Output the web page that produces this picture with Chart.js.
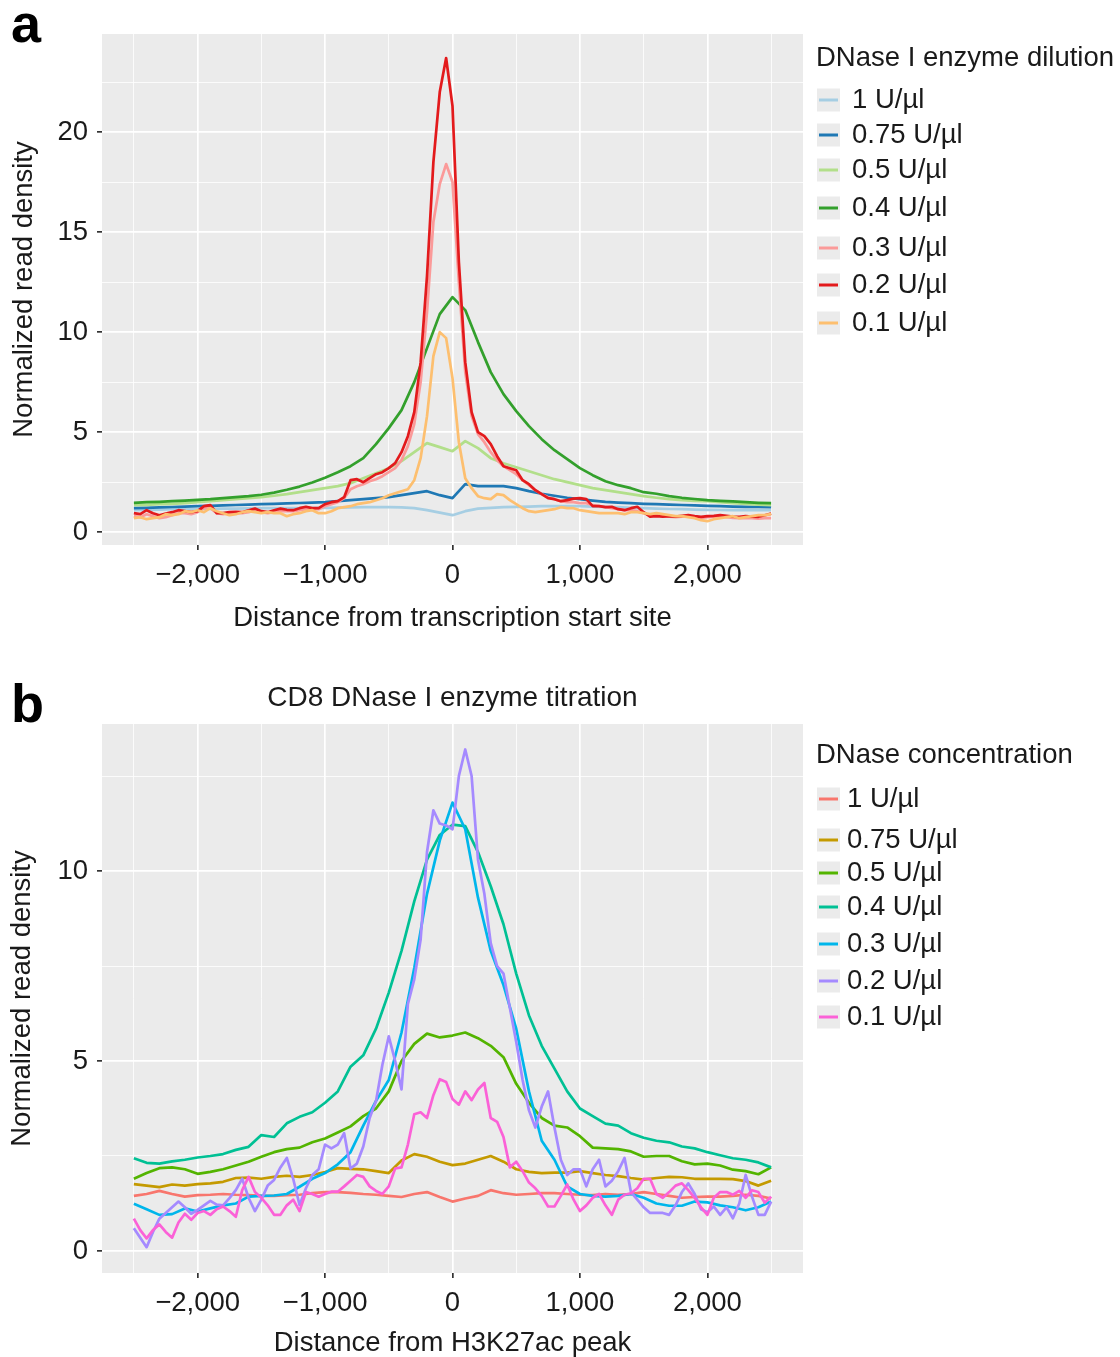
<!DOCTYPE html>
<html>
<head>
<meta charset="utf-8">
<script src="https://cdn.jsdelivr.net/npm/chart.js@4.4.1/dist/chart.umd.min.js"></script>
<style>
  html, body { margin: 0; padding: 0; background: #fff; }
  #wrap { position: relative; width: 1120px; height: 1357px; overflow: hidden; }
  canvas { position: absolute; left: 0; }
  #chartA { top: 0; }
  #chartB { top: 650px; }
</style>
</head>
<body>
<div id="wrap">
  <canvas id="chartA" width="1120" height="650"></canvas>
  <canvas id="chartB" width="1120" height="707"></canvas>
</div>
<script>
// ---- data ----
// distance bins (bp from centre), 100 bp and 50 bp resolution
const bins100 = [];
for (let d = -2500; d <= 2500; d += 100) bins100.push(d);
const bins50 = [];
for (let d = -2500; d <= 2500; d += 50) bins50.push(d);

const concLabels = ['1 U/µl', '0.75 U/µl', '0.5 U/µl', '0.4 U/µl', '0.3 U/µl', '0.2 U/µl', '0.1 U/µl'];

const xMajor = [-2000, -1000, 0, 1000, 2000];
const xTickLabels = ['−2,000', '−1,000', '0', '1,000', '2,000'];
const xMinor = [-2500, -1500, -500, 500, 1500, 2500];
const yMajorA = [0, 5, 10, 15, 20];
const yMinorA = [2.5, 7.5, 12.5, 17.5, 22.5];
const yMajorB = [0, 5, 10];
const yMinorB = [2.5, 7.5, 12.5];

// panel a: TSS profiles
const a1 = [1.10,1.12,1.13,1.15,1.15,1.16,1.17,1.18,1.18,1.19,
  1.20,1.20,1.20,1.20,1.21,1.22,1.23,1.24,1.25,1.25,
  1.25,1.24,1.20,1.10,0.98,0.85,1.05,1.18,1.22,1.25,
  1.27,1.28,1.30,1.30,1.30,1.30,1.28,1.26,1.25,1.22,
  1.20,1.18,1.16,1.15,1.13,1.12,1.11,1.10,1.10,1.10,1.10];
const a075 = [1.20,1.22,1.24,1.26,1.28,1.30,1.32,1.34,1.36,1.38,
  1.40,1.42,1.44,1.46,1.48,1.50,1.55,1.60,1.65,1.70,
  1.75,1.85,1.95,2.05,1.85,1.70,2.40,2.30,2.30,2.30,
  2.20,2.05,1.92,1.82,1.72,1.65,1.58,1.52,1.48,1.45,
  1.42,1.40,1.38,1.36,1.34,1.32,1.30,1.28,1.27,1.26,1.25];
const a05 = [1.35,1.37,1.40,1.42,1.45,1.50,1.55,1.60,1.65,1.70,
  1.75,1.82,1.90,2.00,2.10,2.20,2.30,2.45,2.70,2.95,
  3.20,3.55,4.00,4.45,4.25,4.05,4.55,4.20,3.70,3.45,
  3.25,3.05,2.85,2.65,2.50,2.35,2.20,2.10,2.00,1.90,
  1.80,1.72,1.65,1.60,1.57,1.55,1.50,1.45,1.42,1.38,1.35];
const a04 = [1.47,1.50,1.52,1.55,1.58,1.62,1.65,1.70,1.75,1.80,
  1.87,1.98,2.12,2.28,2.48,2.72,3.00,3.30,3.70,4.40,
  5.20,6.10,7.50,9.20,10.90,11.75,11.10,9.50,8.00,6.90,
  6.05,5.30,4.65,4.10,3.65,3.20,2.85,2.55,2.35,2.20,
  2.00,1.92,1.80,1.72,1.66,1.60,1.57,1.54,1.50,1.47,1.45];
const a03 = [0.80,0.75,0.90,0.80,0.70,0.75,0.85,0.95,0.95,0.90,
  1.00,1.20,1.20,0.95,0.90,0.95,0.95,0.95,1.00,1.10,
  1.00,0.95,1.00,1.05,1.05,1.05,1.10,1.15,1.15,1.15,
  1.30,1.40,1.50,1.70,2.15,2.30,2.40,2.55,2.65,2.80,
  3.00,3.20,3.60,4.30,5.40,7.50,11.00,15.50,17.40,18.40,
  17.50,12.50,8.00,5.80,4.90,4.50,4.00,3.60,3.30,3.10,
  2.90,2.60,2.35,2.10,1.90,1.75,1.65,1.55,1.50,1.50,
  1.45,1.45,1.35,1.30,1.25,1.20,1.15,1.10,1.10,1.05,
  0.95,0.85,0.85,0.80,0.78,0.75,0.78,0.80,0.75,0.72,
  0.75,0.78,0.80,0.75,0.72,0.70,0.72,0.70,0.68,0.70,0.70];
const a02 = [0.95,0.90,1.10,0.95,0.85,0.93,1.00,1.10,1.05,1.00,
  1.05,1.30,1.35,0.95,0.95,1.00,1.02,1.00,1.10,1.18,
  1.05,1.00,1.10,1.18,1.12,1.10,1.20,1.27,1.20,1.20,
  1.40,1.50,1.55,1.75,2.60,2.65,2.50,2.70,2.90,3.00,
  3.20,3.45,4.00,4.80,6.00,8.50,12.80,18.50,22.00,23.70,
  21.30,13.50,8.50,6.00,5.00,4.80,4.40,3.80,3.30,3.20,
  3.10,2.60,2.40,2.10,1.90,1.70,1.65,1.55,1.60,1.68,
  1.70,1.65,1.30,1.30,1.25,1.27,1.15,1.10,1.20,1.27,
  1.00,0.78,0.80,0.78,0.80,0.78,0.82,0.85,0.80,0.77,
  0.80,0.82,0.85,0.82,0.78,0.77,0.80,0.78,0.77,0.85,0.93];
const a01 = [0.70,0.75,0.65,0.70,0.75,0.90,0.85,0.90,1.05,1.00,
  1.10,1.00,1.20,1.05,0.95,0.85,0.90,1.00,1.05,1.00,
  0.95,1.00,0.95,0.95,0.80,0.90,0.95,1.05,1.10,0.95,
  0.95,1.05,1.20,1.25,1.30,1.40,1.45,1.50,1.60,1.70,
  1.85,1.95,2.05,2.15,2.60,3.70,5.80,8.80,10.00,9.70,
  7.70,4.50,2.70,2.20,1.80,1.70,1.65,1.90,1.85,1.60,
  1.40,1.20,1.05,1.00,1.05,1.10,1.15,1.25,1.20,1.20,
  1.10,1.05,1.00,0.95,0.95,0.95,0.95,0.90,1.00,1.00,
  0.95,0.90,0.95,0.90,0.85,0.80,0.80,0.75,0.70,0.60,
  0.55,0.65,0.70,0.75,0.80,0.70,0.75,0.80,0.85,0.85,0.90];

// panel b: H3K27ac peak profiles
const b1 = [1.45,1.50,1.58,1.50,1.43,1.47,1.48,1.50,1.48,1.47,
  1.45,1.45,1.47,1.48,1.52,1.55,1.55,1.53,1.50,1.48,
  1.45,1.42,1.50,1.55,1.42,1.30,1.38,1.45,1.60,1.52,
  1.48,1.50,1.52,1.52,1.50,1.48,1.47,1.50,1.48,1.50,
  1.55,1.50,1.45,1.40,1.42,1.43,1.43,1.45,1.48,1.45,1.38];
const b075 = [1.76,1.72,1.68,1.75,1.72,1.76,1.78,1.82,1.92,1.93,
  1.90,1.95,1.98,1.95,2.00,2.08,2.18,2.16,2.15,2.10,
  2.05,2.38,2.55,2.48,2.35,2.26,2.30,2.40,2.50,2.35,
  2.15,2.08,2.05,2.06,2.06,2.10,2.05,2.00,1.97,1.92,
  1.88,1.92,1.95,1.94,1.90,1.90,1.90,1.89,1.84,1.72,1.85];
const b05 = [1.90,2.05,2.18,2.20,2.15,2.03,2.08,2.15,2.25,2.35,
  2.48,2.60,2.68,2.72,2.86,2.96,3.12,3.28,3.55,3.75,
  4.20,5.00,5.45,5.72,5.62,5.67,5.75,5.60,5.40,5.10,
  4.40,3.90,3.50,3.30,3.25,3.02,2.72,2.70,2.68,2.62,
  2.48,2.50,2.50,2.36,2.28,2.30,2.25,2.14,2.10,2.02,2.20];
const b04 = [2.44,2.32,2.30,2.36,2.40,2.46,2.50,2.55,2.66,2.74,
  3.05,3.00,3.36,3.53,3.65,3.90,4.20,4.85,5.15,5.85,
  6.80,7.90,9.20,10.30,10.95,11.22,11.18,10.50,9.60,8.60,
  7.30,6.20,5.40,4.80,4.20,3.75,3.55,3.35,3.30,3.10,
  2.98,2.90,2.86,2.75,2.70,2.60,2.52,2.44,2.40,2.33,2.20];
const b03 = [1.24,1.10,0.95,0.97,1.12,1.04,1.12,1.20,1.25,1.43,
  1.45,1.46,1.50,1.69,1.90,2.05,2.28,2.60,3.30,3.95,
  4.50,5.75,7.45,9.40,10.80,11.80,11.10,9.30,7.90,7.00,
  5.85,4.20,2.90,2.40,1.70,1.50,1.45,1.43,1.45,1.50,
  1.40,1.25,1.19,1.19,1.30,1.28,1.20,1.15,1.07,1.15,1.30];
const b02 = [0.60,0.35,0.10,0.50,0.85,1.00,1.15,1.30,1.15,0.98,
  1.08,1.20,1.32,1.22,1.20,1.39,1.60,1.90,1.40,1.05,
  1.35,1.72,1.87,2.20,2.45,1.90,1.21,1.65,2.00,2.15,
  2.80,2.70,2.80,3.10,2.17,2.30,2.75,3.50,3.95,4.90,
  5.65,5.00,4.25,6.50,7.15,8.20,10.50,11.60,11.25,11.20,
  11.10,12.50,13.20,12.50,10.30,9.40,8.10,7.50,7.30,6.40,
  5.50,4.50,3.70,3.25,3.80,4.20,3.25,2.40,2.00,2.15,
  2.15,1.70,2.15,2.40,1.70,1.85,2.10,2.45,1.55,1.35,
  1.15,1.00,1.00,1.00,0.95,1.20,1.55,1.78,1.50,1.10,
  1.02,1.17,0.95,1.15,0.86,1.25,2.00,1.43,0.95,0.95,1.30];
const b01 = [0.85,0.55,0.33,0.55,0.70,0.50,0.35,0.75,0.98,0.82,
  1.00,1.05,0.95,1.10,1.17,1.05,0.90,1.60,1.95,1.55,
  1.40,1.20,0.95,0.95,1.20,1.35,1.05,1.55,1.50,1.43,
  1.50,1.56,1.56,1.70,1.85,2.00,1.95,1.70,1.58,1.50,
  1.70,2.17,2.20,2.80,3.60,3.65,3.50,4.10,4.52,4.45,
  4.00,3.85,4.20,3.97,4.25,4.42,3.50,3.40,3.00,2.20,
  2.35,2.10,1.80,1.65,1.45,1.17,1.17,1.45,1.75,1.35,
  1.05,1.20,1.40,1.50,1.20,0.95,1.35,1.48,1.52,1.65,
  1.90,1.90,1.50,1.40,1.55,1.72,1.78,1.60,1.40,1.15,
  0.95,1.40,1.55,1.55,1.48,1.58,1.40,1.60,1.55,1.27,1.43];

// ---- styling ----
const FONT = "'Liberation Sans', Arial, Helvetica, sans-serif";
const TEXT = '#1a1a1a';
const PANEL_BG = '#EBEBEB';
const KEY_BG = '#EBEBEB';
const coloursA = ['#A6CEE3', '#1F78B4', '#B2DF8A', '#33A02C', '#FB9A99', '#E31A1C', '#FDBF6F'];
const coloursB = ['#F8766D', '#C49A00', '#53B400', '#00C094', '#00B6EB', '#A58AFF', '#FB61D7'];

const pts = (bins, vals) => vals.map((v, i) => ({ x: bins[i], y: v }));

function buildSets(series, colours) {
  const n = series.length;
  return series.map((s, i) => ({
    label: concLabels[i],
    data: pts(s.bins, s.vals),
    borderColor: colours[i],
    backgroundColor: colours[i],
    borderWidth: 2.7,
    borderJoinStyle: 'round',
    pointRadius: 0,
    tension: 0,
    fill: false,
    order: n - 1 - i   // later levels drawn on top, like ggplot
  }));
}

// grey panel, panel letter, optional title and the ggplot-like legend
const ggExtras = {
  id: 'ggExtras',
  beforeDraw(chart) {
    const { ctx, chartArea: a } = chart;
    ctx.save();
    ctx.fillStyle = PANEL_BG;
    ctx.fillRect(a.left, a.top, a.right - a.left, a.bottom - a.top);
    ctx.restore();
  },
  afterDraw(chart, args, o) {
    const ctx = chart.ctx;
    ctx.save();
    ctx.fillStyle = '#000';
    ctx.textAlign = 'left';
    ctx.textBaseline = 'alphabetic';
    ctx.font = `bold 54px ${FONT}`;
    ctx.fillText(o.letter, o.letterX, o.letterY);

    ctx.fillStyle = TEXT;
    ctx.textBaseline = 'middle';
    if (o.title) {
      ctx.font = `28px ${FONT}`;
      ctx.textAlign = 'center';
      const a = chart.chartArea;
      ctx.fillText(o.title, (a.left + a.right) / 2, o.titleY);
      ctx.textAlign = 'left';
    }
    ctx.font = `27.5px ${FONT}`;
    ctx.fillText(o.legendTitle, o.legendX, o.legendTitleY);
    chart.data.datasets.forEach((ds, i) => {
      const y = o.rowY[i];
      ctx.fillStyle = KEY_BG;
      ctx.fillRect(o.legendX + 1, y - 11.5, 23, 23);
      ctx.strokeStyle = ds.borderColor;
      ctx.lineWidth = 3;
      ctx.beginPath();
      ctx.moveTo(o.legendX + 3, y);
      ctx.lineTo(o.legendX + 22, y);
      ctx.stroke();
      ctx.fillStyle = TEXT;
      ctx.fillText(ds.label, o.labelX, y);
    });
    ctx.restore();
  }
};

function makeScales(o) {
  const xTicks = xMajor.concat(xMinor).sort((p, q) => p - q);
  const yTicks = o.yMajor.concat(o.yMinor).sort((p, q) => p - q);
  return {
    x: {
      type: 'linear',
      min: -2750, max: 2750,
      afterBuildTicks: s => { s.ticks = xTicks.map(v => ({ value: v })); },
      afterFit: s => { s.height = o.xAxisHeight; },
      border: { display: false },
      grid: {
        color: '#FFFFFF',
        lineWidth: c => xMajor.includes(c.tick && c.tick.value) ? 1.7 : 0.8,
        tickColor: c => xMajor.includes(c.tick && c.tick.value) ? '#333333' : 'rgba(0,0,0,0)',
        tickLength: 5
      },
      ticks: {
        autoSkip: false, maxRotation: 0, minRotation: 0, padding: 9,
        color: TEXT, font: { family: FONT, size: 27.5 },
        callback: v => { const k = xMajor.indexOf(v); return k >= 0 ? xTickLabels[k] : ''; }
      },
      title: {
        display: true, text: o.xTitle, color: TEXT,
        font: { family: FONT, size: 27.5, lineHeight: 1 },
        padding: { top: 0, bottom: o.xTitlePad }
      }
    },
    y: {
      type: 'linear',
      min: o.yMin, max: o.yMax,
      afterBuildTicks: s => { s.ticks = yTicks.map(v => ({ value: v })); },
      afterFit: s => { s.width = 102; },
      border: { display: false },
      grid: {
        color: '#FFFFFF',
        lineWidth: c => o.yMajor.includes(c.tick && c.tick.value) ? 1.7 : 0.8,
        tickColor: c => o.yMajor.includes(c.tick && c.tick.value) ? '#333333' : 'rgba(0,0,0,0)',
        tickLength: 5
      },
      ticks: {
        autoSkip: false, padding: 9,
        color: TEXT, font: { family: FONT, size: 27.5 },
        callback: v => o.yMajor.includes(v) ? String(v) : ''
      },
      title: {
        display: true, text: 'Normalized read density', color: TEXT,
        font: { family: FONT, size: 27.5, lineHeight: 1 },
        padding: { top: o.yTitlePad, bottom: 0 }
      }
    }
  };
}

function makeChart(canvasId, sets, o) {
  const ctx = document.getElementById(canvasId).getContext('2d');
  return new Chart(ctx, {
    type: 'line',
    data: { datasets: sets },
    options: {
      responsive: false,
      devicePixelRatio: 1,
      animation: false,
      layout: { padding: o.padding },
      plugins: {
        legend: { display: false },
        tooltip: { enabled: false },
        ggExtras: o.extras
      },
      scales: makeScales(o)
    },
    plugins: [ggExtras]
  });
}

// ---- panel a ----
makeChart('chartA', buildSets([
  { bins: bins100, vals: a1 },
  { bins: bins100, vals: a075 },
  { bins: bins100, vals: a05 },
  { bins: bins100, vals: a04 },
  { bins: bins50, vals: a03 },
  { bins: bins50, vals: a02 },
  { bins: bins50, vals: a01 }
], coloursA), {
  padding: { left: 0, top: 34, right: 317, bottom: 0 },
  xAxisHeight: 105,
  xTitle: 'Distance from transcription start site',
  xTitlePad: 18,
  yTitlePad: 11,
  yMin: -0.64, yMax: 24.9,
  yMajor: yMajorA, yMinor: yMinorA,
  extras: {
    letter: 'a', letterX: 11, letterY: 42,
    legendTitle: 'DNase I enzyme dilution', legendX: 816, legendTitleY: 58,
    labelX: 852,
    rowY: [100, 135, 170, 208, 248, 285, 323]
  }
});

// ---- panel b ----
makeChart('chartB', buildSets([
  { bins: bins100, vals: b1 },
  { bins: bins100, vals: b075 },
  { bins: bins100, vals: b05 },
  { bins: bins100, vals: b04 },
  { bins: bins100, vals: b03 },
  { bins: bins50, vals: b02 },
  { bins: bins50, vals: b01 }
], coloursB), {
  padding: { left: 0, top: 74, right: 317, bottom: 0 },
  xAxisHeight: 84,
  xTitle: 'Distance from H3K27ac peak',
  xTitlePad: 0,
  yTitlePad: 9,
  yMin: -0.58, yMax: 13.87,
  yMajor: yMajorB, yMinor: yMinorB,
  extras: {
    letter: 'b', letterX: 11, letterY: 72,
    title: 'CD8 DNase I enzyme titration', titleY: 48,
    legendTitle: 'DNase concentration', legendX: 816, legendTitleY: 105,
    labelX: 847,
    rowY: [149, 190, 223, 257, 294, 331, 367]
  }
});
</script>
</body>
</html>
